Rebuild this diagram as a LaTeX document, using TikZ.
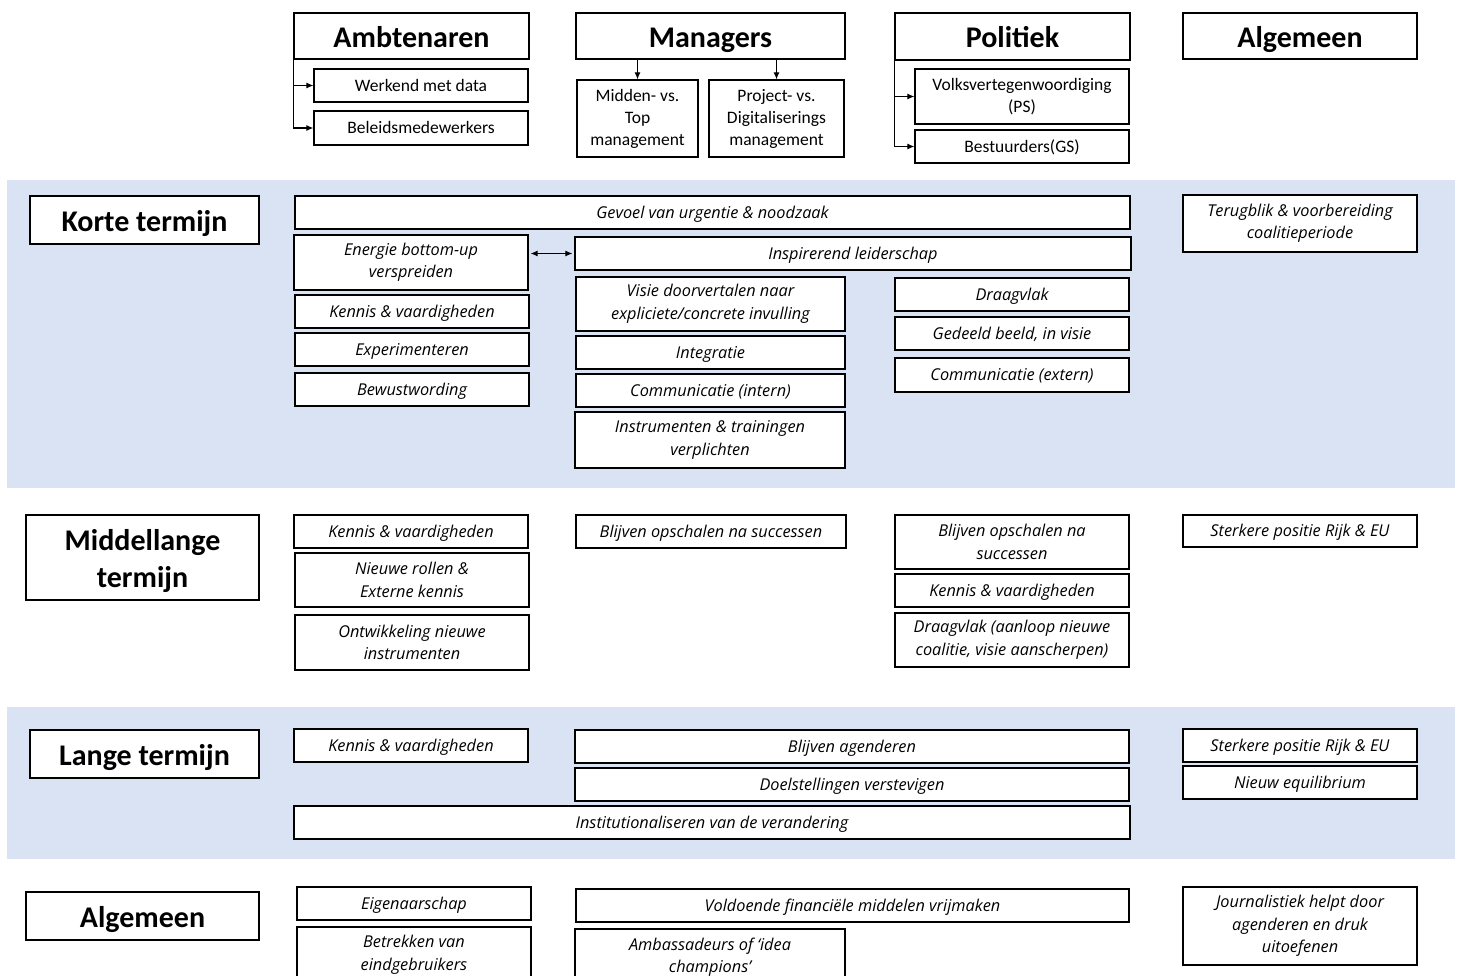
\documentclass[tikz,border=0pt]{standalone}
\usepackage{fontspec}
\setmainfont{Carlito}
\newfontfamily\itfont{Open Sans}
\usetikzlibrary{arrows.meta}
\definecolor{bandblue}{HTML}{DAE3F3}
\tikzset{
  base/.style={draw=black, line width=1.2pt, fill=white, inner sep=0pt, align=center},
  hd/.style={base, font=\fontsize{30}{37}\selectfont\bfseries},
  hdone/.style={hd, text height=25pt, text depth=2pt},
  sub/.style={base, font=\fontsize{17.5}{22}\selectfont},
  subone/.style={sub, text height=14.3pt, text depth=3pt},
  it/.style={base, font=\itfont\fontsize{16.3}{22.5}\selectfont\itshape},
  itone/.style={it, text height=14.6pt, text depth=3pt},
  arr/.style={line width=1.1pt, -{Latex[length=7pt,width=6pt]}},
  darr/.style={line width=1.1pt, {Latex[length=7pt,width=6pt]}-{Latex[length=7pt,width=6pt]}}
}
\newcommand{\bx}[7]{\node[#6, minimum width={(#4-#2)*1pt}, minimum height={(#5-#3)*1pt}] (#1) at ({(#2+#4)/2},{(#3+#5)/2}) {#7};}
\begin{document}
\begin{tikzpicture}[x=1pt,y=-1pt]
\clip (0,0) rectangle (1458,976);
\useasboundingbox (0,0) rectangle (1458,976);
\fill[white] (0,0) rectangle (1458,976);
% bands
\fill[bandblue] (7,180) rectangle (1455,488);
\fill[bandblue] (7,707) rectangle (1455,859);
% headers
\bx{amb}{294}{13}{529}{59}{hdone}{Ambtenaren}
\bx{mgr}{576}{13}{845}{59}{hdone}{Managers}
\bx{pol}{895}{13}{1130}{60}{hdone}{Politiek}
\bx{alg}{1183}{13}{1417}{59}{hdone}{Algemeen}
% sub groups
\bx{wmd}{314}{69}{528}{102}{subone}{Werkend met data}
\bx{bel}{314}{111}{528}{145}{subone}{Beleidsmedewerkers}
\bx{mid}{577}{80}{698}{157}{sub}{Midden- vs.\\Top\\management}
\bx{prj}{709}{80}{844}{157}{sub}{Project- vs.\\Digitaliserings\\management}
\bx{vol}{915}{69}{1129}{124}{sub}{Volksvertegenwoordiging\\(PS)}
\bx{bes}{915}{130}{1129}{163}{subone}{Bestuurders(GS)}
% connectors
\draw[arr] (amb.south west) |- (wmd.west);
\draw[arr] (amb.south west) |- (bel.west);
\draw[arr] (mid.north |- mgr.south) -- (mid.north);
\draw[arr] (prj.north |- mgr.south) -- (prj.north);
\draw[arr] (pol.south west) |- (vol.west);
\draw[arr] (pol.south west) |- (bes.west);
% row labels
\bx{kt}{30}{196}{259}{244}{hdone}{Korte termijn}
\bx{mt}{26}{515}{259}{600}{hd}{\vspace{0pt}}
\node[font=\fontsize{30}{37}\selectfont\bfseries, align=center, inner sep=0pt, yshift=-4pt] (mtt) at (mt.center) {Middellange\\termijn};
\bx{lt}{30}{730}{259}{778}{hdone}{Lange termijn}
\bx{ag}{26}{892}{259}{940}{hdone}{Algemeen}
% korte termijn
\bx{k1}{295}{196}{1130}{229}{itone}{Gevoel van urgentie \& noodzaak}
\bx{k2}{294}{235}{528}{290}{it}{Energie bottom-up\\verspreiden}
\bx{k3}{575}{237}{1131}{270}{itone}{Inspirerend leiderschap}
\bx{k4}{295}{295}{529}{328}{itone}{Kennis \& vaardigheden}
\bx{k5}{295}{333}{529}{366}{itone}{Experimenteren}
\bx{k6}{295}{373}{529}{406}{itone}{Bewustwording}
\bx{k7}{576}{277}{845}{331}{it}{Visie doorvertalen naar\\expliciete/concrete invulling}
\bx{k8}{576}{336}{845}{369}{itone}{Integratie}
\bx{k9}{576}{374}{845}{407}{itone}{Communicatie (intern)}
\bx{k10}{575}{412}{845}{468}{it}{Instrumenten \& trainingen\\verplichten}
\bx{k11}{895}{278}{1129}{311}{itone}{Draagvlak}
\bx{k12}{895}{317}{1129}{350}{itone}{Gedeeld beeld, in visie}
\bx{k13}{895}{358}{1129}{392}{itone}{Communicatie (extern)}
\bx{k14}{1183}{195}{1417}{252}{it}{Terugblik \& voorbereiding\\coalitieperiode}
\draw[darr, shorten <=2pt, shorten >=2pt] (k3.west -| k2.east) -- (k3.west);
% middellange termijn
\bx{m1}{294}{515}{528}{548}{itone}{Kennis \& vaardigheden}
\bx{m2}{295}{553}{529}{607}{it}{Nieuwe rollen \&\\Externe kennis}
\bx{m3}{295}{615}{529}{670}{it}{Ontwikkeling nieuwe\\instrumenten}
\bx{m4}{576}{515}{846}{548}{itone}{Blijven opschalen na successen}
\bx{m5}{895}{515}{1129}{569}{it}{Blijven opschalen na\\successen}
\bx{m6}{895}{574}{1129}{607}{itone}{Kennis \& vaardigheden}
\bx{m7}{895}{613}{1129}{667}{it}{Draagvlak (aanloop nieuwe\\coalitie, visie aanscherpen)}
\bx{m8}{1183}{515}{1417}{547}{itone}{Sterkere positie Rijk \& EU}
% lange termijn
\bx{l1}{294}{729}{528}{762}{itone}{Kennis \& vaardigheden}
\bx{l2}{575}{730}{1129}{763}{itone}{Blijven agenderen}
\bx{l3}{575}{768}{1129}{801}{itone}{Doelstellingen verstevigen}
\bx{l4}{294}{806}{1130}{839}{itone}{Institutionaliseren van de verandering}
\bx{l5}{1183}{729}{1417}{762}{itone}{Sterkere positie Rijk \& EU}
\bx{l6}{1183}{766}{1417}{799}{itone}{Nieuw equilibrium}
% algemeen
\bx{a1}{297}{887}{531}{920}{itone}{Eigenaarschap}
\bx{a2}{297}{927}{531}{983}{it}{Betrekken van\\eindgebruikers}
\bx{a3}{576}{889}{1129}{922}{itone}{Voldoende financiële middelen vrijmaken}
\bx{a4}{575}{929}{845}{985}{it}{Ambassadeurs of ‘idea\\champions’}
\bx{a5}{1183}{887}{1417}{965}{it}{Journalistiek helpt door\\agenderen en druk\\uitoefenen}
\end{tikzpicture}
\end{document}
